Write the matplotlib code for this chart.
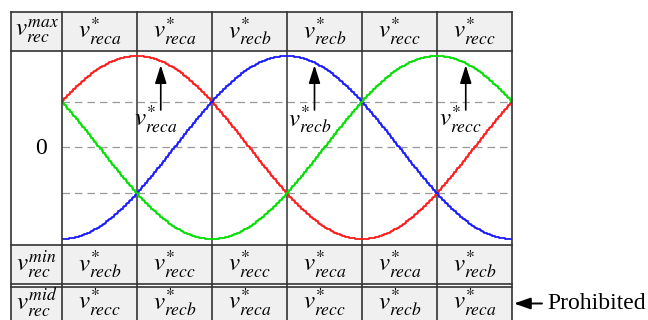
import numpy as np
import matplotlib
matplotlib.use('Agg')
import matplotlib.pyplot as plt
from matplotlib.patches import Rectangle

plt.rcParams['mathtext.fontset'] = 'stix'
plt.rcParams['font.family'] = ['Liberation Serif', 'DejaVu Serif']

# phase references: peak angle (deg) of each rectified reference, unit amplitude
phases = ['reca', 'recb', 'recc']
peak_deg = [60, 180, 300]
amplitude = 1.0
colors = ['#ff1a1a', '#1a1aff', '#00e000']
levels = [0.5, 0.0, -0.5]

# table contents, one entry per 60 degree sector
row_max = ['reca', 'reca', 'recb', 'recb', 'recc', 'recc']
row_min = ['recb', 'recc', 'recc', 'reca', 'reca', 'recb']
row_mid = ['recc', 'recb', 'reca', 'recc', 'recb', 'reca']

# arrows pointing at the maximum reference in each pair of sectors
arrow_deg = [79, 202, 323]
arrow_tip = [0.90, 0.90, 0.90]
arrow_tail = [0.41, 0.41, 0.41]
arrow_lbl = ['reca', 'recb', 'recc']

W, H = 648, 320
fig = plt.figure(figsize=(W / 100, H / 100), dpi=100)

# pixel layout of the table
x_left, x_first, x_right = 11, 62, 512
y_top, y_graph0, y_graph1 = 12, 51, 245
y_min1, y_mid0 = 284, 287
col_x = np.linspace(x_first, x_right, 7)
fs = 18

# waveform axes
ax = fig.add_axes([x_first / W, 1 - y_graph1 / H,
                   (x_right - x_first) / W, (y_graph1 - y_graph0) / H])
theta = np.linspace(0, 360, 301)
for ph, pk, c in zip(phases, peak_deg, colors):
    v = amplitude * np.cos(np.radians(theta - pk))
    ax.plot(theta, v, color=c, lw=1.3, drawstyle='steps-mid', zorder=3)
for lv in levels:
    ax.axhline(lv, color='#999999', lw=0.9, ls=(0, (6, 4)), zorder=1)
for d in range(60, 360, 60):
    ax.axvline(d, color='#333333', lw=1.1, zorder=2)
for d, tip, tail, lb in zip(arrow_deg, arrow_tip, arrow_tail, arrow_lbl):
    ax.annotate('', xy=(d, tip), xytext=(d, tail),
                arrowprops=dict(arrowstyle='-|>,head_length=1.1,head_width=0.35',
                                color='black', lw=1.2, shrinkA=0, shrinkB=0),
                zorder=4)
    ax.text(d - 4, tail - 0.1, r'$v^{*}_{%s}$' % lb, ha='center', va='center',
            fontsize=fs, zorder=4)
ax.set_xlim(0, 360)
ax.set_ylim(-1.066, 1.055)
ax.axis('off')

# table overlay in pixel coordinates
tb = fig.add_axes([0, 0, 1, 1], zorder=-1)
tb.set_xlim(0, W)
tb.set_ylim(H, 0)
tb.axis('off')
gray = '#f0f0f0'
for y0, y1 in [(y_top, y_graph0), (y_graph1, y_min1), (y_mid0, H + 5)]:
    tb.add_patch(Rectangle((x_left, y0), x_right - x_left, y1 - y0,
                           facecolor=gray, edgecolor='none'))

over = fig.add_axes([0, 0, 1, 1], zorder=5)
over.set_xlim(0, W)
over.set_ylim(H, 0)
over.axis('off')
lc = '#333333'
for y in [y_top, y_graph0, y_graph1, y_min1, y_mid0]:
    over.plot([x_left, x_right], [y, y], color=lc, lw=1.2)
for x in [x_left, x_first, x_right]:
    over.plot([x, x], [y_top, H + 5], color=lc, lw=1.2)
for x in col_x[1:-1]:
    for y0, y1 in [(y_top, y_graph0), (y_graph1, H + 5)]:
        over.plot([x, x], [y0, y1], color=lc, lw=1.2)

centers = (col_x[:-1] + col_x[1:]) / 2
xl = (x_left + x_first) / 2
rows = [((y_top + y_graph0) / 2, 'max', row_max),
        ((y_graph1 + y_min1) / 2, 'min', row_min),
        ((y_mid0 + H) / 2 - 1, 'mid', row_mid)]
for yc, tag, cells in rows:
    over.text(xl, yc, r'$v^{%s}_{rec}$' % tag, ha='center', va='center', fontsize=fs)
    for xc, s in zip(centers, cells):
        over.text(xc, yc, r'$v^{*}_{%s}$' % s, ha='center', va='center', fontsize=fs)

over.text(xl + 5, 148, '0', ha='center', va='center', fontsize=17)

yp = rows[2][0] + 1
over.annotate('', xy=(514, yp), xytext=(542, yp),
              arrowprops=dict(arrowstyle='-|>,head_length=1.0,head_width=0.35',
                              color='black', lw=1.4, shrinkA=0, shrinkB=0))
over.text(547, yp, 'Prohibited', ha='left', va='center', fontsize=17)

fig.savefig('out.png', dpi=100)
